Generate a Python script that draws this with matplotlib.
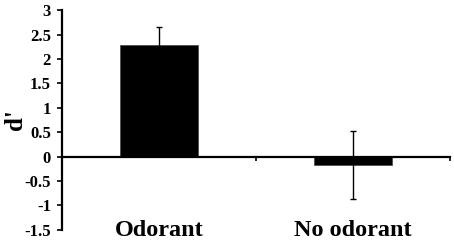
import matplotlib
matplotlib.use("Agg")
import matplotlib.pyplot as plt
import matplotlib.transforms as mtransforms

categories = ["Odorant", "No odorant"]
dprime = [2.28, -0.17]
errors = [0.38, 0.70]
yticks = [-1.5, -1, -0.5, 0, 0.5, 1, 1.5, 2, 2.5, 3]

plt.rcParams['font.family'] = ['Liberation Serif', 'DejaVu Serif']
plt.rcParams['font.weight'] = 'bold'

fig = plt.figure(figsize=(4.54, 2.4), dpi=100)
ax = fig.add_axes([0.137, 0.042, 0.854, 0.916])

x = list(range(len(categories)))
ax.bar(x, dprime, width=0.4, color='black', edgecolor='#444444', linewidth=0.5, zorder=2)
ax.errorbar(x, dprime, yerr=errors, fmt='none', ecolor='black', elinewidth=1,
            capsize=2.5, capthick=1, zorder=3)

ax.set_xlim(-0.5, 1.5)
ax.set_ylim(-1.5, 3)
ax.set_yticks(yticks)
ax.set_yticklabels([('%g' % v) for v in yticks], fontsize=12, fontweight='bold')

# x axis sits on zero, category labels stay at the bottom
ax.spines['bottom'].set_position(('data', 0))
ax.spines['top'].set_visible(False)
ax.spines['right'].set_visible(False)
ax.spines['left'].set_linewidth(1.6)
ax.spines['bottom'].set_linewidth(1.6)
ax.set_xticks([-0.5, 0.5, 1.5])
ax.set_xticklabels([])
ax.tick_params(axis='x', direction='out', length=3, width=1.2)
ax.tick_params(axis='y', direction='out', length=3.5, width=1.2, pad=4.5)

trans = mtransforms.blended_transform_factory(ax.transData, ax.transAxes)
for xi, name in zip(x, categories):
    ax.text(xi, -0.027, name, transform=trans, ha='center', va='baseline',
            fontsize=17.5, fontweight='bold')

fig.text(4 / 454, 0.5, "d'", rotation=90, ha='left', va='center',
         fontsize=18, fontweight='bold')

fig.savefig("out.png", dpi=100)
